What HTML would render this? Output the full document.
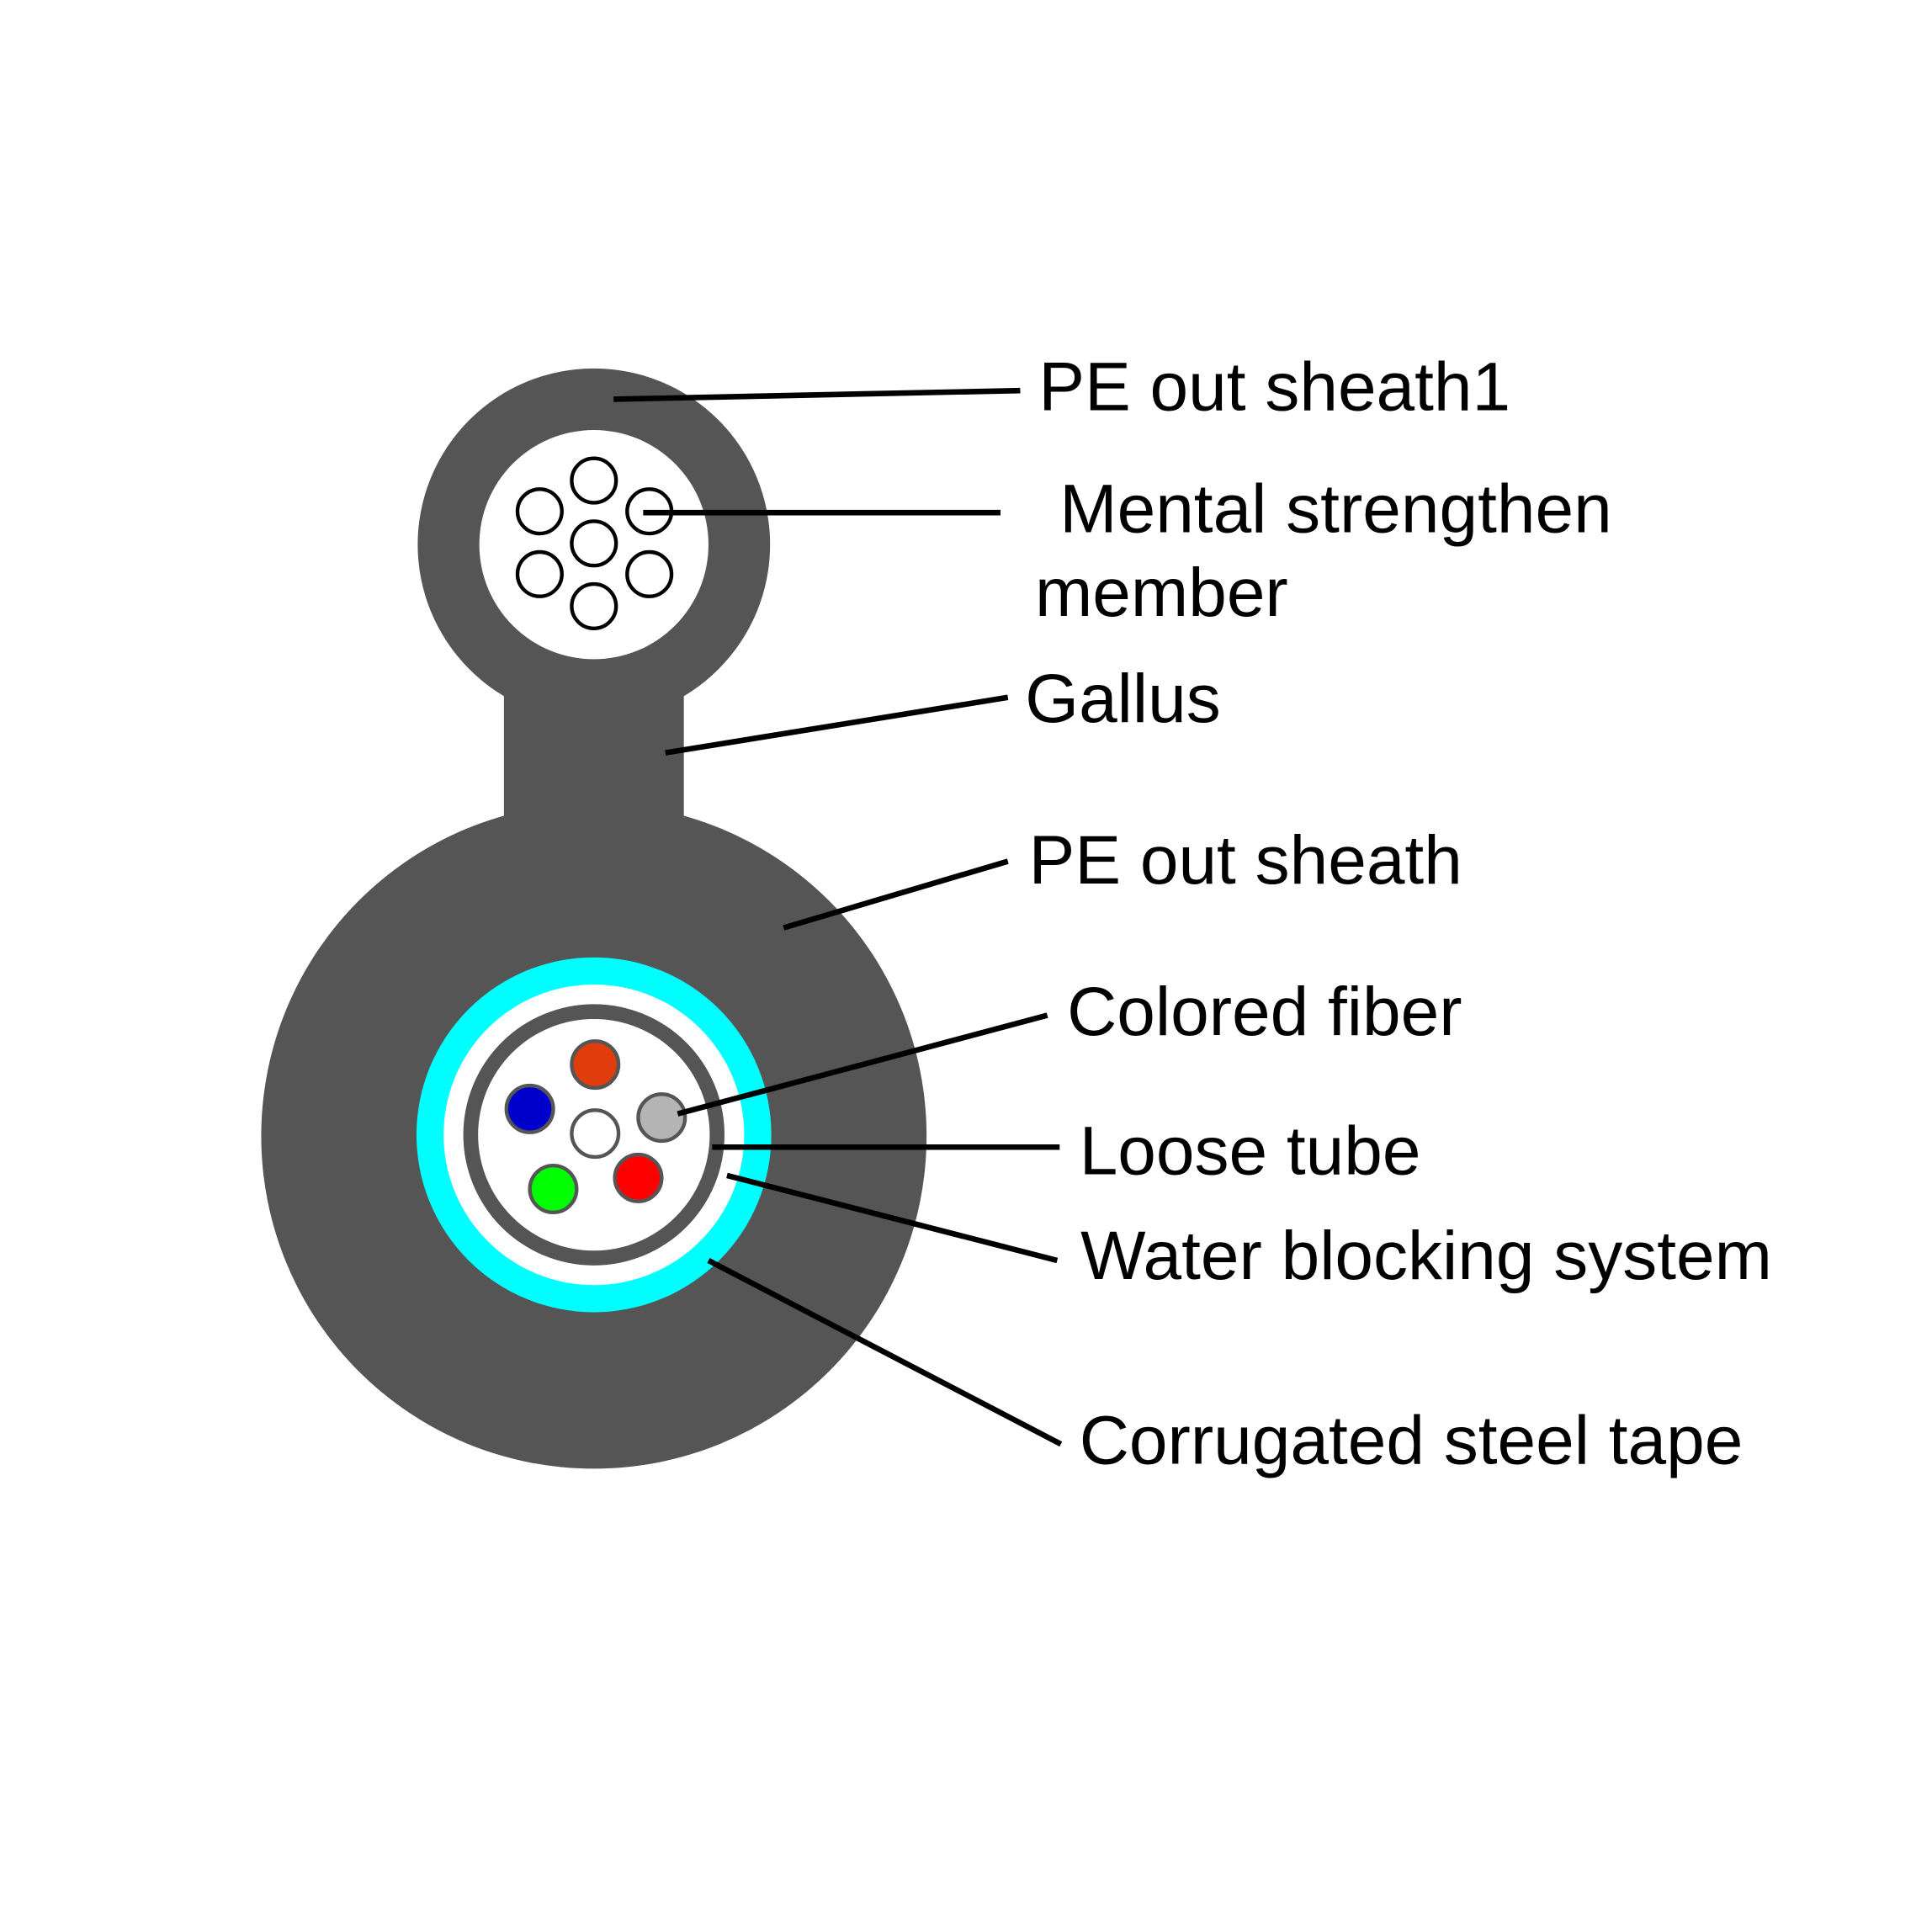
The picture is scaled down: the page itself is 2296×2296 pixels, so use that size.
<!DOCTYPE html>
<html><head><style>html,body{margin:0;padding:0;background:#fff}svg{display:block}</style></head>
<body>
<svg width="2296" height="2296" viewBox="0 0 1568 1568" xmlns="http://www.w3.org/2000/svg">
<rect width="1568" height="1568" fill="#fff"/>
<g fill="#555555">
<circle cx="482" cy="442" r="143"/>
<rect x="409" y="540" width="146" height="130"/>
<circle cx="482" cy="922" r="270"/>
</g>
<circle cx="482" cy="442" r="93" fill="#fff"/>
<g fill="#fff" stroke="#000" stroke-width="3">
<circle cx="482" cy="390" r="18"/><circle cx="438" cy="415" r="18"/><circle cx="527" cy="415" r="18"/>
<circle cx="482" cy="441" r="18"/><circle cx="438" cy="466" r="18"/><circle cx="527" cy="466" r="18"/>
<circle cx="482" cy="492" r="18"/>
</g>
<circle cx="482" cy="921" r="144" fill="#00ffff"/>
<circle cx="482" cy="921" r="122" fill="#fff"/>
<circle cx="482" cy="921" r="106" fill="#555555"/>
<circle cx="482" cy="921" r="94" fill="#fff"/>
<g stroke="#555555" stroke-width="3">
<circle cx="483" cy="864" r="19" fill="#e03c0c"/>
<circle cx="430" cy="900" r="19" fill="#0000cc"/>
<circle cx="537" cy="907" r="19" fill="#b4b4b4"/>
<circle cx="483" cy="920" r="19" fill="#fff"/>
<circle cx="449" cy="965" r="19" fill="#00ff00"/>
<circle cx="518" cy="956" r="19" fill="#ff0000"/>
</g>
<g stroke="#000" stroke-width="4.5">
<line x1="498" y1="324" x2="828" y2="317"/>
<line x1="522" y1="416" x2="812" y2="416"/>
<line x1="540" y1="611" x2="818" y2="566"/>
<line x1="636" y1="753" x2="818" y2="699"/>
<line x1="550" y1="904" x2="850" y2="824"/>
<line x1="578" y1="931" x2="860" y2="931"/>
<line x1="590" y1="954" x2="858" y2="1023"/>
<line x1="575" y1="1023" x2="861" y2="1172"/>
</g>
<g font-family="Liberation Sans, sans-serif" font-size="56" fill="#000">
<text x="843" y="333">PE out sheath1</text>
<text x="860" y="432">Mental strengthen</text>
<text x="840" y="500">member</text>
<text x="832" y="586">Gallus</text>
<text x="835" y="717">PE out sheath</text>
<text x="866" y="840">Colored fiber</text>
<text x="876" y="953">Loose tube</text>
<text x="877" y="1038">Water blocking system</text>
<text x="876" y="1188">Corrugated steel tape</text>
</g>
</svg>
</body></html>
